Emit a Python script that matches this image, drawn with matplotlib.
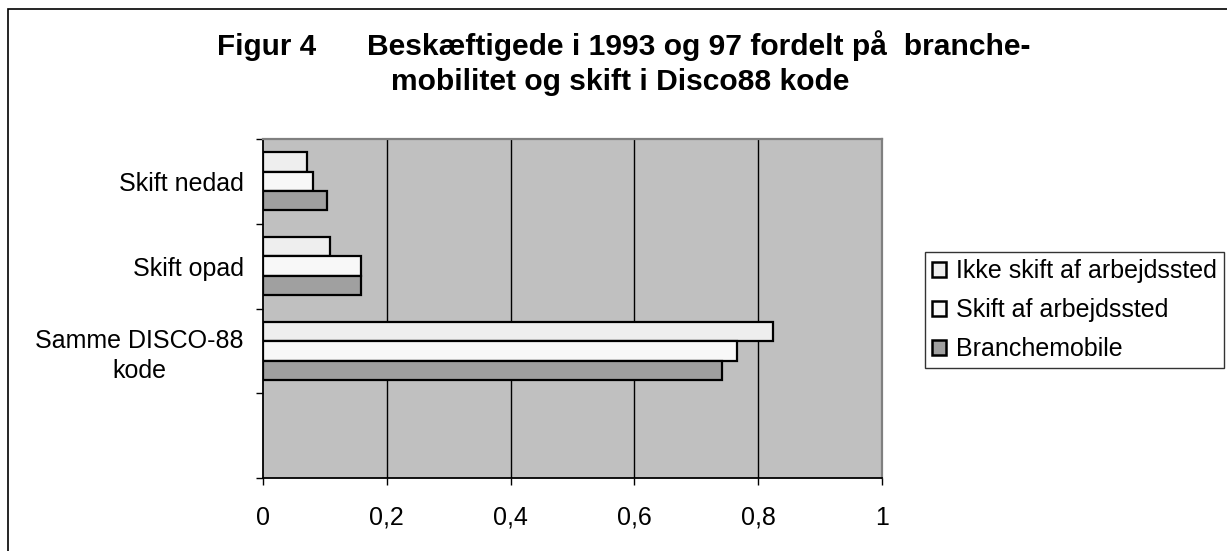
import matplotlib
matplotlib.use("Agg")
import matplotlib.pyplot as plt
from matplotlib.patches import Rectangle

plt.rcParams["font.family"] = ["Liberation Sans", "DejaVu Sans"]

# data
categories = ["", "Samme DISCO-88\nkode", "Skift opad", "Skift nedad"]   # bottom -> top
series = ["Ikke skift af arbejdssted", "Skift af arbejdssted", "Branchemobile"]
ikke_skift = [None, 0.824, 0.109, 0.071]
skift_arb = [None, 0.765, 0.158, 0.080]
branchemobile = [None, 0.741, 0.159, 0.104]
xticks = [0, 0.2, 0.4, 0.6, 0.8, 1.0]
xtick_labels = ["0", "0,2", "0,4", "0,6", "0,8", "1"]

colors = ["#EEEEEE", "#F8F8F8", "#A0A0A0"]

W, H = 1227, 551
fig = plt.figure(figsize=(W / 100, H / 100), dpi=100)
ax = fig.add_axes([263 / W, 1 - 478 / H, (882 - 263) / W, (478 - 139) / H])
ax.set_facecolor("#C0C0C0")

h = 0.229
offsets = [h, 0, -h]
for vals, off, col, name in zip([ikke_skift, skift_arb, branchemobile], offsets, colors, series):
    ys = [i + off for i, v in enumerate(vals) if v is not None]
    xs = [v for v in vals if v is not None]
    ax.barh(ys, xs, height=h, color=col, edgecolor="black", linewidth=1.6,
            label=name, zorder=3)

ax.set_xlim(0, 1)
ax.set_ylim(-0.5, len(categories) - 0.5)

# x axis
ax.set_xticks(xticks)
ax.set_xticklabels(xtick_labels, fontsize=18)
ax.tick_params(axis="x", direction="out", length=5, width=1, pad=15, color="black")
for x in xticks[1:-1]:
    ax.axvline(x, color="black", linewidth=1, zorder=1)

# y axis: ticks between categories, labels at centers
ax.set_yticks([i - 0.5 for i in range(len(categories) + 1)])
ax.set_yticklabels([])
ax.set_yticks(range(len(categories)), minor=True)
ax.set_yticklabels(categories, minor=True, fontsize=18, multialignment="center",
                   linespacing=1.3)
ax.tick_params(axis="y", which="major", direction="out", length=5, width=1)
ax.tick_params(axis="y", which="minor", length=0, pad=14)

for side in ["top", "right"]:
    ax.spines[side].set_color("#808080")
    ax.spines[side].set_linewidth(1.6)
for side in ["left", "bottom"]:
    ax.spines[side].set_color("black")
    ax.spines[side].set_linewidth(1.3)

# legend
leg = fig.legend(loc="upper left", bbox_to_anchor=(925 / W, 1 - 252 / H),
                 borderaxespad=0, fontsize=18, frameon=True, fancybox=False,
                 edgecolor="black", handlelength=0.55, handleheight=0.55,
                 handletextpad=0.4, labelspacing=0.6, borderpad=0.28)
leg.get_frame().set_linewidth(1.0)
for patch in leg.get_patches():
    patch.set_linewidth(1.8)

# title
fig.text(217 / W, 1 - 55 / H, "Figur 4", fontsize=21.3, fontweight="bold", va="baseline")
fig.text(367 / W, 1 - 55 / H, "Beskæftigede i 1993 og 97 fordelt på  branche-",
         fontsize=21.6, fontweight="bold", va="baseline")
fig.text(620 / W, 1 - 90 / H, "mobilitet og skift i Disco88 kode",
         fontsize=21.6, fontweight="bold", va="baseline", ha="center")

# outer chart frame
fig.patches.append(Rectangle((8 / W, -0.1), 1.2, 1.1 - 9 / H, transform=fig.transFigure,
                             fill=False, edgecolor="black", linewidth=1.2, clip_on=False))

fig.savefig("out.png", dpi=100, facecolor="white")
